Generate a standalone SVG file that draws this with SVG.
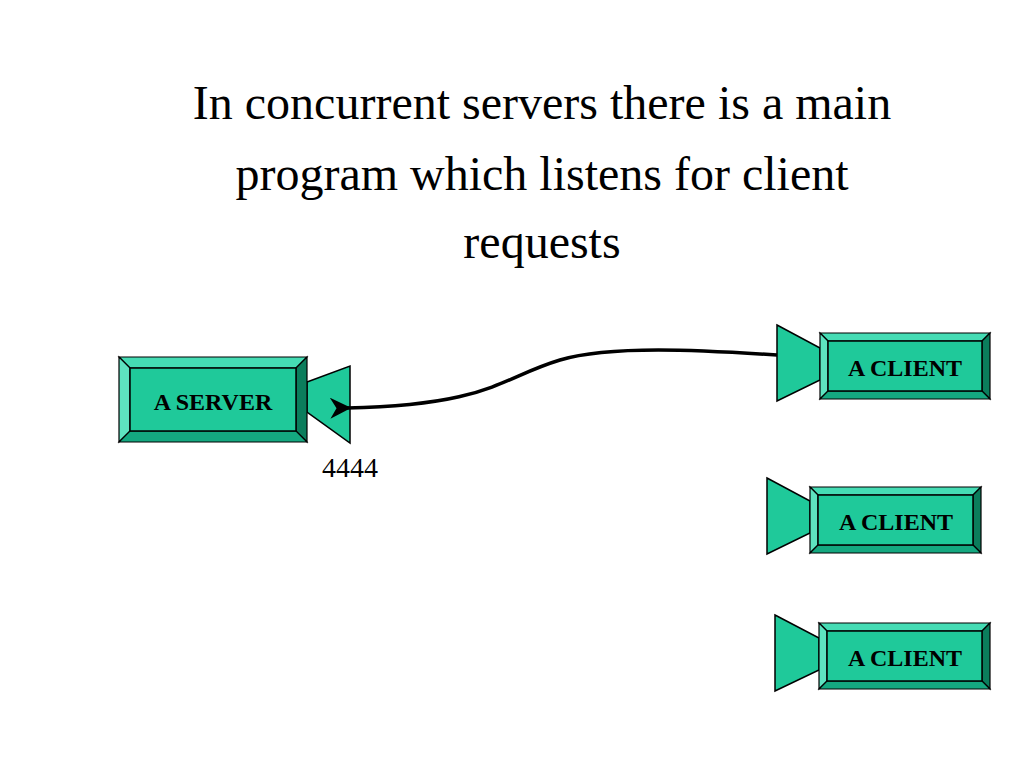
<svg xmlns="http://www.w3.org/2000/svg" width="1024" height="768" viewBox="0 0 1024 768">
<defs>
<style>
.face{fill:#1fc99a;stroke:#000;stroke-width:1.5}
.top{fill:#45dcb4;stroke:#000;stroke-width:1.2}
.left{fill:#5ee3c0;stroke:#000;stroke-width:1.2}
.right{fill:#0b7d5c;stroke:#000;stroke-width:1.2}
.bot{fill:#14a880;stroke:#000;stroke-width:1.2}
.cone{fill:#1fc99a;stroke:#000;stroke-width:1.5}
.lbl{font-family:"Liberation Serif",serif;font-weight:bold;font-size:24px;fill:#000;text-anchor:middle}
.t{font-family:"Liberation Serif",serif;font-size:48px;fill:#000;text-anchor:middle}
</style>
<marker id="ah" viewBox="0 0 10 10" refX="2" refY="5" markerWidth="6" markerHeight="6" orient="auto-start-reverse"><path d="M0,5 L10,0 L7,5 L10,10 Z" fill="#000"/></marker>
</defs>
<g id="title">
<text class="t" x="542" y="119">In concurrent servers there is a main</text>
<text class="t" x="542" y="190">program which listens for client</text>
<text class="t" x="542" y="258">requests</text>
</g>
<g id="server">
<polygon class="cone" points="307,382 350,366 350,443 307,412"/>
<polygon class="top" points="119,357 307,357 296,368 130,368"/>
<polygon class="left" points="119,357 130,368 130,431 119,442"/>
<polygon class="right" points="307,357 307,442 296,431 296,368"/>
<polygon class="bot" points="119,442 130,431 296,431 307,442"/>
<rect class="face" x="130" y="368" width="166" height="63"/>
<text class="lbl" x="213" y="410">A SERVER</text>
<text x="350" y="477" font-family="Liberation Serif,serif" font-size="28" text-anchor="middle">4444</text>
</g>
<g id="client1">
<polygon class="cone" points="777,325 820,348 820,380 777,401"/>
<polygon class="top" points="820,333 990,333 982,341 828,341"/>
<polygon class="left" points="820,333 828,341 828,391 820,399"/>
<polygon class="right" points="990,333 990,399 982,391 982,341"/>
<polygon class="bot" points="820,399 828,391 982,391 990,399"/>
<rect class="face" x="828" y="341" width="154" height="50"/>
<text class="lbl" x="905" y="376">A CLIENT</text>
</g>
<g id="client2">
<polygon class="cone" points="767,478 810,501 810,533 767,554"/>
<polygon class="top" points="810,487 981,487 973,495 818,495"/>
<polygon class="left" points="810,487 818,495 818,545 810,553"/>
<polygon class="right" points="981,487 981,553 973,545 973,495"/>
<polygon class="bot" points="810,553 818,545 973,545 981,553"/>
<rect class="face" x="818" y="495" width="155" height="50"/>
<text class="lbl" x="896" y="530">A CLIENT</text>
</g>
<g id="client3">
<polygon class="cone" points="775,615 819,638 819,670 775,691"/>
<polygon class="top" points="819,623 990,623 982,631 827,631"/>
<polygon class="left" points="819,623 827,631 827,681 819,689"/>
<polygon class="right" points="990,623 990,689 982,681 982,631"/>
<polygon class="bot" points="819,689 827,681 982,681 990,689"/>
<rect class="face" x="827" y="631" width="155" height="50"/>
<text class="lbl" x="905" y="666">A CLIENT</text>
</g>
<g id="connectors">
<path d="M777,355 C700,350 610,345 560,360 C500,378 490,405 347,408" fill="none" stroke="#000" stroke-width="3.5" marker-end="url(#ah)"/>
</g>
</svg>
